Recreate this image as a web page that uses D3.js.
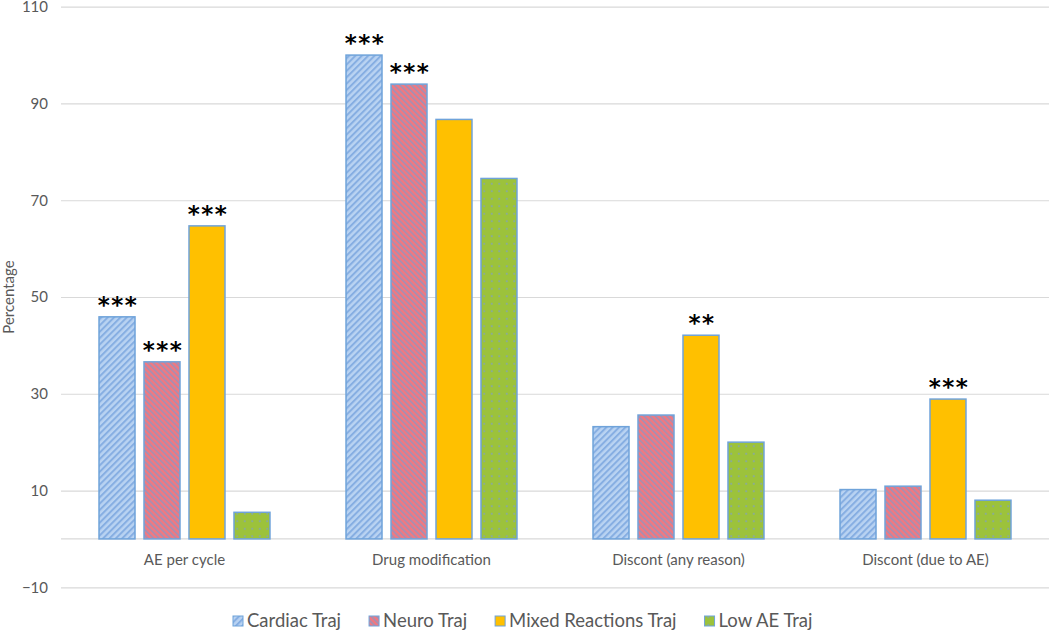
<!DOCTYPE html>
<html>
<head>
<meta charset="utf-8">
<script src="https://d3js.org/d3.v7.min.js"></script>
<style>
  body { margin: 0; background: #fff; }
  text { font-family: Lato, "Open Sans", sans-serif; }
</style>
</head>
<body>
<svg id="chart" width="1050" height="631"></svg>
<script>
// data
var categories = ["AE per cycle", "Drug modification", "Discont (any reason)", "Discont (due to AE)"];
var series = ["Cardiac Traj", "Neuro Traj", "Mixed Reactions Traj", "Low AE Traj"];
var cardiac = [45.9, 100.0, 23.2, 10.2];
var neuro   = [36.6, 94.0, 25.6, 10.9];
var mixed   = [64.7, 86.7, 42.1, 28.9];
var lowAE   = [5.5, 74.5, 20.0, 8.0];
var stars = [
  ["***", "***", "***", ""],
  ["***", "***", "", ""],
  ["", "", "**", ""],
  ["", "", "***", ""]
];
var yTicks = [-10, 10, 30, 50, 70, 90, 110];

var values = [cardiac, neuro, mixed, lowAE];
var fills = ["url(#pCardiac)", "url(#pNeuro)", "#ffc000", "url(#pLow)"];

var svg = d3.select("#chart");
var left = 61, right = 1049;

var y = d3.scaleLinear().domain([-10, 110]).range([587.3, 6.7]);
var x0 = d3.scaleBand().domain(categories).range([left, right]);
var x1 = d3.scaleBand().domain(series).range([0, x0.bandwidth()])
  .paddingInner(0.2).paddingOuter(0.845);

// patterns
var defs = svg.append("defs");
var p1 = defs.append("pattern").attr("id", "pCardiac").attr("patternUnits", "userSpaceOnUse")
  .attr("width", 4.5).attr("height", 4.5).attr("patternTransform", "rotate(45)");
p1.append("rect").attr("width", 4.5).attr("height", 4.5).attr("fill", "#b9d3f2");
p1.append("rect").attr("width", 2).attr("height", 4.5).attr("fill", "#86aee2");

var p2 = defs.append("pattern").attr("id", "pNeuro").attr("patternUnits", "userSpaceOnUse")
  .attr("width", 4).attr("height", 4).attr("patternTransform", "rotate(-45)");
p2.append("rect").attr("width", 4).attr("height", 4).attr("fill", "#f2787f");
p2.append("rect").attr("width", 1.5).attr("height", 4).attr("fill", "#9a92ba");

var p3 = defs.append("pattern").attr("id", "pLow").attr("patternUnits", "userSpaceOnUse")
  .attr("width", 7.5).attr("height", 7.5);
p3.append("rect").attr("width", 7.5).attr("height", 7.5).attr("fill", "#9cc23b");
p3.append("rect").attr("x", 3).attr("y", 3).attr("width", 1.5).attr("height", 1.5).attr("fill", "#7f9fc8");

// y axis with gridlines
var yAxis = svg.append("g").attr("transform", "translate(" + left + ",0)")
  .call(d3.axisLeft(y).tickValues(yTicks).tickSize(-(right - left)).tickPadding(13));
yAxis.select(".domain").remove();
yAxis.selectAll("line").attr("stroke", "#d9d9d9").attr("stroke-width", 1.2);
yAxis.selectAll("text").attr("fill", "#595959").style("font-size", "15px");

// zero line
svg.append("line").attr("x1", left).attr("x2", right)
  .attr("y1", y(0)).attr("y2", y(0)).attr("stroke", "#d9d9d9").attr("stroke-width", 1.2);

// bars
var groups = svg.selectAll(".cat").data(categories).enter().append("g")
  .attr("transform", function(d) { return "translate(" + x0(d) + ",0)"; });

groups.each(function(c, ci) {
  var g = d3.select(this);
  series.forEach(function(s, si) {
    var v = values[si][ci];
    g.append("rect")
      .attr("x", x1(s)).attr("width", x1.bandwidth())
      .attr("y", y(v)).attr("height", y(0) - y(v))
      .attr("fill", fills[si]).attr("stroke", "#6fa3da").attr("stroke-width", 1.5);
    if (stars[ci][si]) {
      g.append("text")
        .attr("x", x1(s) + x1.bandwidth() / 2 + 1).attr("y", y(v) - 4)
        .attr("text-anchor", "middle")
        .style("font-family", "'DejaVu Sans', sans-serif")
        .style("font-weight", "bold").style("font-size", "23px")
        .style("letter-spacing", "1.5px")
        .attr("fill", "#000").text(stars[ci][si]);
    }
  });
});

// category labels
svg.selectAll(".clabel").data(categories).enter().append("text")
  .attr("x", function(d) { return x0(d) + x0.bandwidth() / 2; })
  .attr("y", 560).attr("dy", "0.35em")
  .attr("text-anchor", "middle").attr("fill", "#595959").style("font-size", "15px")
  .text(function(d) { return d; });

// y title
svg.append("text").attr("transform", "translate(9,297) rotate(-90)")
  .attr("text-anchor", "middle").attr("dy", "0.35em")
  .attr("fill", "#595959").style("font-size", "15px").text("Percentage");

// legend
var legend = svg.append("g").attr("transform", "translate(233,621)");
var lx = 0;
series.forEach(function(s, i) {
  var it = legend.append("g").attr("transform", "translate(" + lx + ",0)");
  it.append("rect").attr("x", 0).attr("y", -5).attr("width", 10).attr("height", 10)
    .attr("fill", fills[i]).attr("stroke", "#6fa3da").attr("stroke-width", 1);
  var t = it.append("text").attr("x", 14).attr("dy", "0.35em")
    .attr("fill", "#595959").style("font-size", "18.5px").text(s);
  lx += 14 + t.node().getComputedTextLength() + 28;
});
</script>
</body>
</html>
